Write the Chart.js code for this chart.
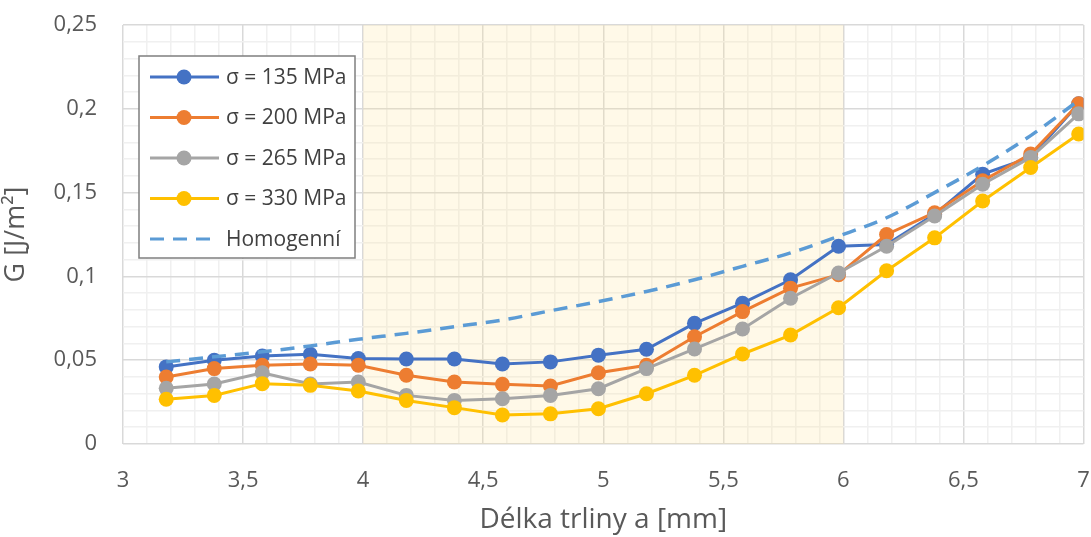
<!DOCTYPE html>
<html>
<head>
<meta charset="utf-8">
<script src="https://cdn.jsdelivr.net/npm/chart.js@4.4.1/dist/chart.umd.min.js"></script>
<style>
  html, body { margin: 0; padding: 0; background: #fff; }
  #wrap { width: 1091px; height: 537px; }
</style>
</head>
<body>
<div id="wrap"><canvas id="chart" width="1091" height="537"></canvas></div>
<script>
// crack length a [mm]
const crackLength = [3.18, 3.38, 3.58, 3.78, 3.98, 4.18, 4.38, 4.58, 4.78, 4.98,
                     5.18, 5.38, 5.58, 5.78, 5.98, 6.18, 6.38, 6.58, 6.78, 6.98];

const g135 = [0.046, 0.050, 0.0525, 0.0535, 0.051, 0.0507, 0.0507, 0.0477, 0.049, 0.053,
              0.0565, 0.072, 0.084, 0.098, 0.118, 0.119, 0.137, 0.161, 0.171, 0.203];
const g200 = [0.040, 0.045, 0.047, 0.0477, 0.047, 0.041, 0.037, 0.0356, 0.0346, 0.0425,
              0.047, 0.064, 0.079, 0.093, 0.101, 0.125, 0.138, 0.157, 0.173, 0.203];
const g265 = [0.0332, 0.0358, 0.0425, 0.0358, 0.037, 0.029, 0.026, 0.027, 0.029, 0.033,
              0.045, 0.0567, 0.0686, 0.087, 0.102, 0.118, 0.136, 0.155, 0.171, 0.197];
const g330 = [0.0267, 0.029, 0.036, 0.035, 0.0316, 0.026, 0.0217, 0.0173, 0.018, 0.021,
              0.030, 0.041, 0.0537, 0.065, 0.0813, 0.1034, 0.123, 0.145, 0.165, 0.185];
const gHomog = [0.049, 0.052, 0.055, 0.0585, 0.0625, 0.066, 0.070, 0.074, 0.0795, 0.085,
                0.091, 0.098, 0.106, 0.114, 0.124, 0.135, 0.150, 0.166, 0.184, 0.205];

const seriesLabels = ['σ = 135 MPa', 'σ = 200 MPa', 'σ = 265 MPa', 'σ = 330 MPa', 'Homogenní'];
const seriesColors = ['#4472C4', '#ED7D31', '#A5A5A5', '#FFC000', '#5B9BD5'];
const bandRange = [4, 6];

const FONT = "'Open Sans', 'Liberation Sans', sans-serif";

function pts(ys) {
    return crackLength.map((x, i) => ({ x: x, y: ys[i] }));
}

function comma(v) {
    const r = Math.round(v * 1000) / 1000;
    return String(r).replace('.', ',');
}

function isMultiple(v, step) {
    const q = v / step;
    return Math.abs(q - Math.round(q)) < 1e-6;
}

// light yellow band behind the lines
const bandPlugin = {
    id: 'band',
    beforeDatasetsDraw(chart) {
        const { ctx, chartArea, scales } = chart;
        const x0 = scales.x.getPixelForValue(bandRange[0]);
        const x1 = scales.x.getPixelForValue(bandRange[1]);
        ctx.save();
        ctx.fillStyle = 'rgba(255, 228, 150, 0.22)';
        ctx.fillRect(x0, chartArea.top, x1 - x0, chartArea.bottom - chartArea.top);
        ctx.restore();
    }
};

// boxed legend inside plot
const legendPlugin = {
    id: 'boxLegend',
    afterDraw(chart) {
        const ctx = chart.ctx;
        const left = 139, top = 56, w = 216, h = 202;
        ctx.save();
        ctx.fillStyle = '#fff';
        ctx.fillRect(left, top, w, h);
        ctx.strokeStyle = '#7f7f7f';
        ctx.lineWidth = 1.5;
        ctx.strokeRect(left, top, w, h);
        ctx.font = '21px ' + FONT;
        ctx.textBaseline = 'middle';
        chart.data.datasets.forEach((ds, i) => {
            const y = top + 21 + i * 40.5;
            ctx.strokeStyle = ds.borderColor;
            ctx.lineWidth = 3;
            ctx.setLineDash(ds.borderDash || []);
            ctx.beginPath();
            ctx.moveTo(150, y);
            ctx.lineTo(219, y);
            ctx.stroke();
            ctx.setLineDash([]);
            if (ds.pointRadius > 0) {
                ctx.fillStyle = ds.borderColor;
                ctx.beginPath();
                ctx.arc(184, y, 7.5, 0, Math.PI * 2);
                ctx.fill();
            }
            ctx.fillStyle = '#404040';
            ctx.fillText(ds.label, 226, y + 1);
        });
        ctx.restore();
    }
};

// later series drawn on top, like the original
const datasets = [g135, g200, g265, g330].map((arr, i) => ({
    label: seriesLabels[i],
    data: pts(arr),
    borderColor: seriesColors[i],
    backgroundColor: seriesColors[i],
    borderWidth: 3,
    pointRadius: 7.5,
    pointHoverRadius: 7.5,
    pointBorderWidth: 0,
    order: 5 - i
}));
datasets.push({
    label: seriesLabels[4],
    data: pts(gHomog),
    borderColor: seriesColors[4],
    backgroundColor: seriesColors[4],
    borderWidth: 3.5,
    borderDash: [14, 9],
    pointRadius: 0,
    cubicInterpolationMode: 'monotone',
    order: 1
});

new Chart(document.getElementById('chart'), {
    type: 'line',
    data: { datasets: datasets },
    plugins: [bandPlugin, legendPlugin],
    options: {
        responsive: false,
        animation: false,
        layout: { padding: { top: 25, right: 4, left: 0, bottom: 0 } },
        plugins: { legend: { display: false }, tooltip: { enabled: false } },
        scales: {
            x: {
                type: 'linear',
                min: 3, max: 7,
                afterFit(axis) {
                    axis.height = 93;
                    axis.paddingLeft = 0;
                    axis.paddingRight = 0;
                },
                border: { display: false },
                grid: {
                    drawTicks: false,
                    color: c => isMultiple(c.tick.value, 0.5) ? '#D9D9D9' : '#F0F0F0',
                    lineWidth: 1.5
                },
                ticks: {
                    stepSize: 0.1,
                    autoSkip: false,
                    maxRotation: 0,
                    padding: 24,
                    color: '#595959',
                    font: { family: FONT, size: 22 },
                    callback: v => isMultiple(v, 0.5) ? comma(v) : ''
                },
                title: {
                    display: true,
                    text: 'Délka trliny a [mm]',
                    color: '#595959',
                    font: { family: FONT, size: 28 },
                    padding: { top: 0, bottom: 0 }
                }
            },
            y: {
                min: 0, max: 0.25,
                afterFit(axis) {
                    axis.width = 123;
                    axis.paddingTop = 0;
                    axis.paddingBottom = 0;
                },
                border: { display: false },
                grid: {
                    drawTicks: false,
                    color: c => isMultiple(c.tick.value, 0.05) ? '#D9D9D9' : '#F0F0F0',
                    lineWidth: 1.5
                },
                ticks: {
                    stepSize: 0.01,
                    autoSkip: false,
                    padding: 26,
                    color: '#595959',
                    font: { family: FONT, size: 22 },
                    callback: v => isMultiple(v, 0.05) ? comma(v) : ''
                },
                title: {
                    display: true,
                    text: 'G [J/m²]',
                    color: '#595959',
                    font: { family: FONT, size: 27 },
                    padding: { top: 0, bottom: 0 }
                }
            }
        }
    }
});
</script>
</body>
</html>
